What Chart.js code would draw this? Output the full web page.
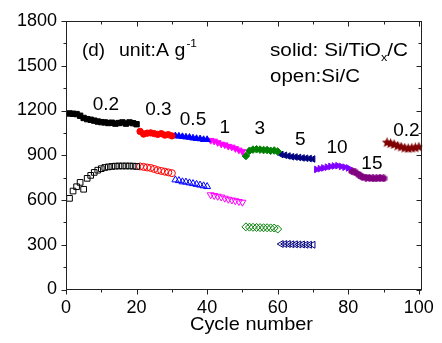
<!DOCTYPE html>
<html lang="en">
<head>
    <meta charset="UTF-8">
    <title>Rate capability</title>
    <script src="https://cdn.jsdelivr.net/npm/chart.js@4.4.1/dist/chart.umd.min.js"></script>
    <style>
        html, body { margin: 0; padding: 0; background: #fff; }
        #wrap { width: 442px; height: 343px; }
    </style>
</head>
<body>
<div id="wrap"><canvas id="myChart" width="442" height="343"></canvas></div>
<script>
    // current density of each block (A g-1) and the first cycle of the block
    var rates = ['0.2', '0.3', '0.5', '1', '3', '5', '10', '15', '0.2'];
    var startCycles = [1, 21, 31, 41, 51, 61, 71, 81, 91];
    var colors = ['#000000', '#ff0000', '#0000ff', '#ff00ff', '#008000', '#000080', '#8000ff', '#800080', '#800000'];

    // solid: Si/TiOx/C capacity (mAh g-1)
    var solidCap = [
        [1180, 1178, 1176, 1165, 1150, 1142, 1138, 1132, 1126, 1122, 1120, 1116, 1118, 1112, 1116, 1120, 1112, 1120, 1115, 1108],
        [1060, 1042, 1048, 1050, 1045, 1040, 1045, 1035, 1038, 1030],
        [1030, 1028, 1025, 1022, 1020, 1015, 1012, 1010, 1005, 1005],
        [1000, 995, 985, 975, 970, 960, 955, 945, 935, 925],
        [895, 930, 938, 940, 938, 935, 935, 930, 932, 925],
        [905, 900, 895, 890, 888, 885, 882, 880, 878, 875],
        [805, 810, 815, 820, 825, 828, 830, 825, 820, 815],
        [795, 785, 770, 755, 750, 748, 745, 745, 748, 745],
        [985, 978, 972, 962, 955, 948, 945, 948, 950, 955]
    ];
    // open: Si/C capacity (mAh g-1), first six blocks only
    var openCap = [
        [611, 660, 689, 718, 672, 745, 765, 785, 800, 810, 818, 822, 825, 827, 828, 828, 828, 828, 827, 825],
        [825, 822, 818, 815, 808, 800, 795, 790, 785, 780],
        [735, 730, 722, 720, 715, 710, 705, 700, 695, 690],
        [635, 630, 625, 620, 612, 605, 600, 595, 590, 585],
        [420, 418, 417, 416, 415, 414, 414, 413, 412, 405],
        [305, 305, 305, 303, 303, 302, 302, 300, 300, 300]
    ];

    var xTicks = [0, 20, 40, 60, 80, 100];
    var yTicks = [0, 300, 600, 900, 1200, 1500, 1800];

    // where the rate labels sit, in data units
    var labelX = [11.3, 26.2, 36, 45, 54.9, 66.4, 76.8, 86.7, 96.5];
    var labelY = [1236, 1203, 1136, 1082, 1076, 1002, 948, 841, 1062];

    var FONT = 'Arial, "Liberation Sans", sans-serif';

    function makeMarker(kind, color, size) {
        var c = document.createElement('canvas');
        c.width = size; c.height = size;
        var g = c.getContext('2d');
        var r = size / 2, n = kind === 'star' ? 10 : 6;
        g.fillStyle = color;
        g.beginPath();
        for (var k = 0; k < n; k++) {
            var a = -Math.PI / 2 + k * 2 * Math.PI / n;
            var rr = (kind === 'star' && k % 2) ? r * 0.45 : r;
            g.lineTo(r + rr * Math.cos(a), r + rr * Math.sin(a));
        }
        g.closePath();
        g.fill();
        return c;
    }

    var styles = ['rect', 'circle', 'triangle', 'triangle', 'rectRot', 'triangle', 'triangle',
                  makeMarker('hex', colors[7], 8), makeMarker('star', colors[8], 11)];
    var rotations = [0, 0, 0, 180, 0, -90, 90, 0, 0];

    function toPoints(values, start) {
        return values.map(function (v, k) { return { x: start + k, y: v }; });
    }

    var datasets = [];
    solidCap.forEach(function (vals, i) {
        datasets.push({
            label: 'Si/TiOx/C ' + rates[i],
            data: toPoints(vals, startCycles[i]),
            pointStyle: styles[i],
            rotation: rotations[i],
            pointRadius: i === 1 ? 3.2 : 3.8,
            backgroundColor: colors[i],
            borderColor: colors[i],
            borderWidth: 1
        });
    });
    openCap.forEach(function (vals, i) {
        datasets.push({
            label: 'Si/C ' + rates[i],
            data: toPoints(vals, startCycles[i]),
            pointStyle: styles[i],
            rotation: rotations[i],
            pointRadius: i === 1 ? 3.5 : 4,
            backgroundColor: 'rgba(0,0,0,0)',
            borderColor: colors[i],
            borderWidth: 1
        });
    });

    // frame, minor ticks, rate labels and the text notes
    var decor = {
        id: 'decor',
        afterDraw: function (chart) {
            var ctx = chart.ctx, a = chart.chartArea;
            var xs = chart.scales.x, ys = chart.scales.y;
            ctx.save();
            ctx.strokeStyle = '#222';
            ctx.lineWidth = 1;
            var L = Math.round(a.left) + 0.5, R = Math.round(a.right) - 0.5;
            var T = Math.round(a.top) + 0.5, B = Math.round(a.bottom) - 0.5;
            ctx.strokeRect(L, T, R - L, B - T);

            ctx.beginPath();
            for (var v = 0; v <= 100; v += 10) {
                var px = Math.round(xs.getPixelForValue(v)) + 0.5;
                var len = v % 20 === 0 ? 5 : 3;
                ctx.moveTo(px, B); ctx.lineTo(px, B + len);
                ctx.moveTo(px, T); ctx.lineTo(px, T + len);
            }
            for (var w = 0; w <= 1800; w += 150) {
                var py = Math.round(ys.getPixelForValue(w)) + 0.5;
                var ln = w % 300 === 0 ? 5 : 3;
                ctx.moveTo(L, py); ctx.lineTo(L - ln, py);
                ctx.moveTo(R, py); ctx.lineTo(R - ln, py);
            }
            ctx.stroke();

            ctx.fillStyle = '#000';
            ctx.textAlign = 'center';
            ctx.textBaseline = 'middle';
            ctx.font = '19px ' + FONT;
            rates.forEach(function (t, i) {
                ctx.fillText(t, xs.getPixelForValue(labelX[i]), ys.getPixelForValue(labelY[i]));
            });

            ctx.textAlign = 'left';
            ctx.textBaseline = 'alphabetic';
            // lay a run of text pieces out so it spans x0..x1
            function fitRun(x0, x1, y, parts) {
                var total = 0;
                parts.forEach(function (p) {
                    ctx.font = (p.size || 18) + 'px ' + FONT;
                    p.w = ctx.measureText(p.t).width;
                    total += p.w + (p.gap || 0);
                });
                ctx.save();
                ctx.translate(x0, y);
                ctx.scale((x1 - x0) / total, 1);
                var cx = 0;
                parts.forEach(function (p) {
                    ctx.font = (p.size || 18) + 'px ' + FONT;
                    ctx.fillText(p.t, cx, p.dy || 0);
                    cx += p.w + (p.gap || 0);
                });
                ctx.restore();
            }
            fitRun(190, 313, 330, [{ t: 'Cycle number', size: 19 }]);
            fitRun(82, 105, 56, [{ t: '(d)' }]);
            fitRun(119, 197, 56, [{ t: 'unit:A g', gap: 1 }, { t: '-1', size: 11, dy: -9 }]);
            fitRun(270, 408, 56, [{ t: 'solid: Si/TiO' }, { t: 'x', size: 11, dy: 5 }, { t: '/C' }]);
            fitRun(270, 360, 82, [{ t: 'open:Si/C' }]);
            ctx.restore();
        }
    };

    new Chart(document.getElementById('myChart'), {
        type: 'scatter',
        data: { datasets: datasets },
        options: {
            responsive: false,
            animation: false,
            devicePixelRatio: 1,
            layout: { padding: { top: 21, right: 17, left: 0, bottom: 0 } },
            plugins: { legend: { display: false }, tooltip: { enabled: false } },
            scales: {
                x: {
                    type: 'linear', min: 0, max: 101,
                    afterBuildTicks: function (s) { s.ticks = xTicks.map(function (v) { return { value: v }; }); },
                    afterFit: function (s) { s.height = 53.5; },
                    grid: { display: false, drawTicks: false },
                    border: { display: false },
                    ticks: {
                        padding: 8, color: '#000', font: { size: 18, family: FONT }, maxRotation: 0,
                        callback: function (v) { return String(v); }
                    }
                },
                y: {
                    type: 'linear', min: 0, max: 1800,
                    afterBuildTicks: function (s) { s.ticks = yTicks.map(function (v) { return { value: v }; }); },
                    afterFit: function (s) { s.width = 66; },
                    grid: { display: false, drawTicks: false },
                    border: { display: false },
                    ticks: {
                        padding: 9, color: '#000', font: { size: 18, family: FONT },
                        callback: function (v) { return String(v); }
                    }
                }
            }
        },
        plugins: [decor]
    });
</script>
</body>
</html>
